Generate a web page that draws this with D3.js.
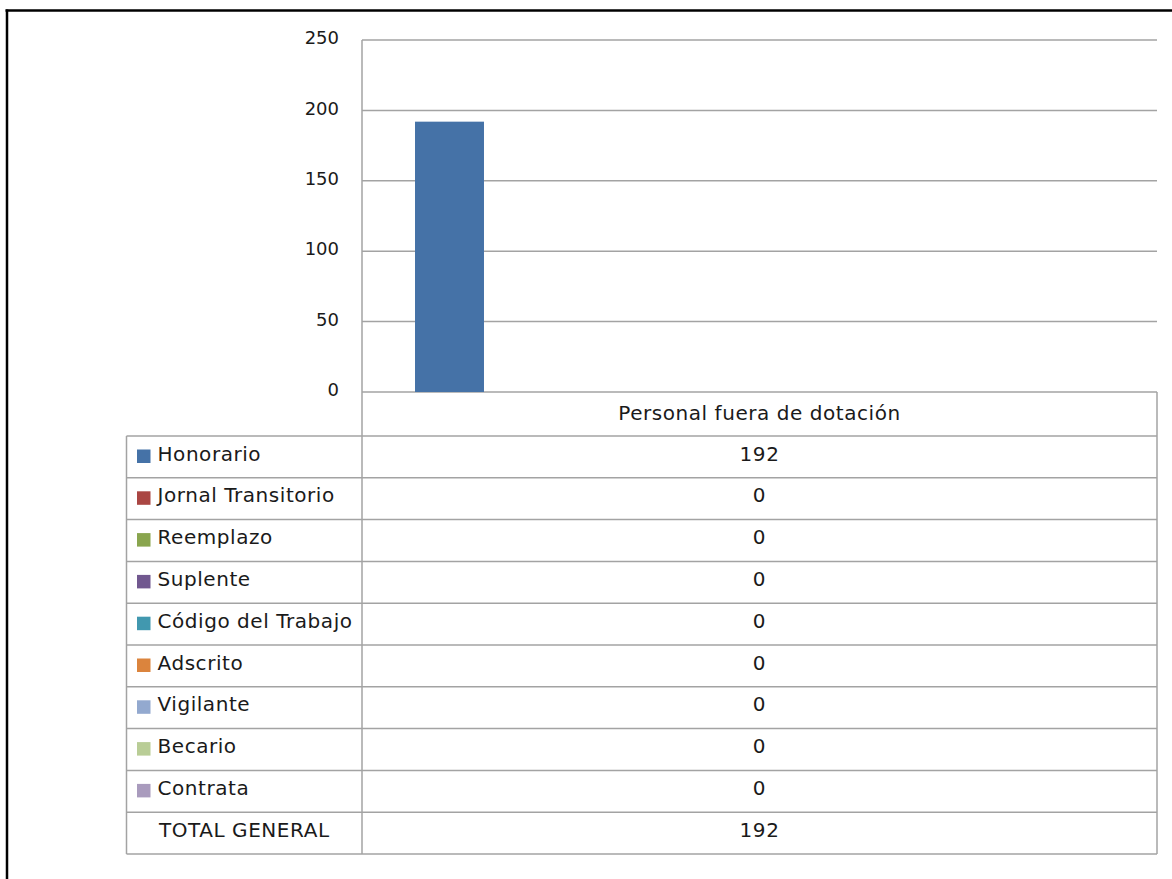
<!DOCTYPE html>
<html>
<head>
<meta charset="utf-8">
<script src="https://cdn.jsdelivr.net/npm/d3@7"></script>
<style>
  body { margin: 0; background: #fff; }
  text { font-family: "DejaVu Sans", Verdana, sans-serif; fill: #1a1a1a; }
</style>
</head>
<body>
<div id="plot"></div>
<script>
// data
const category = "Personal fuera de dotación";
const seriesNames = ["Honorario", "Jornal Transitorio", "Reemplazo", "Suplente",
  "Código del Trabajo", "Adscrito", "Vigilante", "Becario", "Contrata"];
const seriesValues = [192, 0, 0, 0, 0, 0, 0, 0, 0];
const seriesColors = ["#4572A7", "#AA4643", "#89A54E", "#71588F", "#4198AF",
  "#DB843D", "#93A9CF", "#B9CD96", "#A99BBD"];
const totalLabel = "TOTAL GENERAL";
const yTicks = [0, 50, 100, 150, 200, 250];

const w = 1172, h = 879;
const plot = {left: 362, right: 1157, top: 40, bottom: 392};
const table = {left: 126.5, top: 436, bottom: 854};

const svg = d3.select("div#plot")
  .append("svg")
  .attr("width", w)
  .attr("height", h);

// outer frame (cropped: only top and left visible)
svg.append("line")
  .attr("x1", 5.5).attr("x2", w).attr("y1", 10.5).attr("y2", 10.5)
  .attr("stroke", "#000").attr("stroke-width", 2.5);
svg.append("line")
  .attr("x1", 7).attr("x2", 7).attr("y1", 9.5).attr("y2", h)
  .attr("stroke", "#000").attr("stroke-width", 2.5);

const yScale = d3.scaleLinear().domain([0, 250]).range([plot.bottom, plot.top]);

const xScale = d3.scaleBand()
  .domain(seriesNames)
  .range([plot.left, plot.right])
  .paddingInner(0.11)
  .paddingOuter(0.684);

const grey = "#a3a3a3";
const tableFont = "20px";
const spacing = "0.55px";

// gridlines
svg.append("g")
  .attr("id", "grid")
  .selectAll("line")
  .data(yTicks)
  .enter()
  .append("line")
  .attr("x1", plot.left)
  .attr("x2", plot.right)
  .attr("y1", d => yScale(d))
  .attr("y2", d => yScale(d))
  .attr("stroke", grey)
  .attr("stroke-width", 1.5);

// y-axis labels
const yAxis = d3.axisLeft(yScale).tickValues(yTicks).tickSize(0).tickPadding(23);
svg.append("g")
  .attr("id", "yaxis")
  .attr("transform", `translate(${plot.left}, 0)`)
  .call(yAxis)
  .call(g => g.select(".domain").remove())
  .selectAll("text")
  .attr("dy", "0.2em")
  .style("font-size", "18px")
  .style("font-family", "DejaVu Sans")
  .attr("fill", "#1a1a1a");

// bars
svg.append("g")
  .attr("id", "bars")
  .selectAll("rect")
  .data(seriesNames.map((s, i) => ({name: s, value: seriesValues[i], color: seriesColors[i]})))
  .enter()
  .append("rect")
  .attr("x", d => xScale(d.name))
  .attr("width", xScale.bandwidth())
  .attr("y", d => yScale(d.value))
  .attr("height", d => yScale(0) - yScale(d.value))
  .attr("fill", d => d.color);

// data table
const rows = seriesNames.concat([totalLabel]);
const values = seriesValues.concat([d3.sum(seriesValues)]);
const rowScale = d3.scaleBand().domain(rows).range([table.top, table.bottom]);

const tbl = svg.append("g").attr("id", "table");

// horizontal rules
tbl.selectAll("line.hrule")
  .data(rows)
  .enter()
  .append("line")
  .attr("class", "hrule")
  .attr("x1", table.left).attr("x2", plot.right)
  .attr("y1", d => rowScale(d)).attr("y2", d => rowScale(d))
  .attr("stroke", grey).attr("stroke-width", 1.5);
tbl.append("line")
  .attr("x1", table.left).attr("x2", plot.right)
  .attr("y1", table.bottom).attr("y2", table.bottom)
  .attr("stroke", grey).attr("stroke-width", 1.5);

// verticals
tbl.append("line")
  .attr("x1", plot.left).attr("x2", plot.left)
  .attr("y1", plot.top).attr("y2", table.bottom)
  .attr("stroke", grey).attr("stroke-width", 1.5);
tbl.append("line")
  .attr("x1", plot.right).attr("x2", plot.right)
  .attr("y1", plot.bottom).attr("y2", table.bottom)
  .attr("stroke", grey).attr("stroke-width", 1.5);
tbl.append("line")
  .attr("x1", table.left).attr("x2", table.left)
  .attr("y1", table.top).attr("y2", table.bottom)
  .attr("stroke", grey).attr("stroke-width", 1.5);

const midX = (plot.left + plot.right) / 2;

// header
tbl.append("text")
  .attr("x", midX)
  .attr("y", plot.bottom + 28)
  .attr("text-anchor", "middle")
  .style("font-size", tableFont)
  .style("letter-spacing", spacing)
  .text(category);

// legend keys
tbl.selectAll("rect")
  .data(seriesNames)
  .enter()
  .append("rect")
  .attr("x", 137)
  .attr("y", d => rowScale(d) + 13.5)
  .attr("width", 13.5)
  .attr("height", 13.5)
  .attr("fill", (d, i) => seriesColors[i]);

// row labels
tbl.selectAll("text.rowlab")
  .data(rows)
  .enter()
  .append("text")
  .attr("class", "rowlab")
  .attr("x", d => d === totalLabel ? 159 : 157.5)
  .attr("y", d => rowScale(d) + 24.5)
  .style("font-size", tableFont)
  .style("letter-spacing", spacing)
  .text(d => d);

// values
tbl.selectAll("text.val")
  .data(values)
  .enter()
  .append("text")
  .attr("class", "val")
  .attr("x", midX)
  .attr("y", (d, i) => rowScale(rows[i]) + 24.5)
  .attr("text-anchor", "middle")
  .style("font-size", tableFont)
  .style("letter-spacing", spacing)
  .text(d => d);
</script>
</body>
</html>
